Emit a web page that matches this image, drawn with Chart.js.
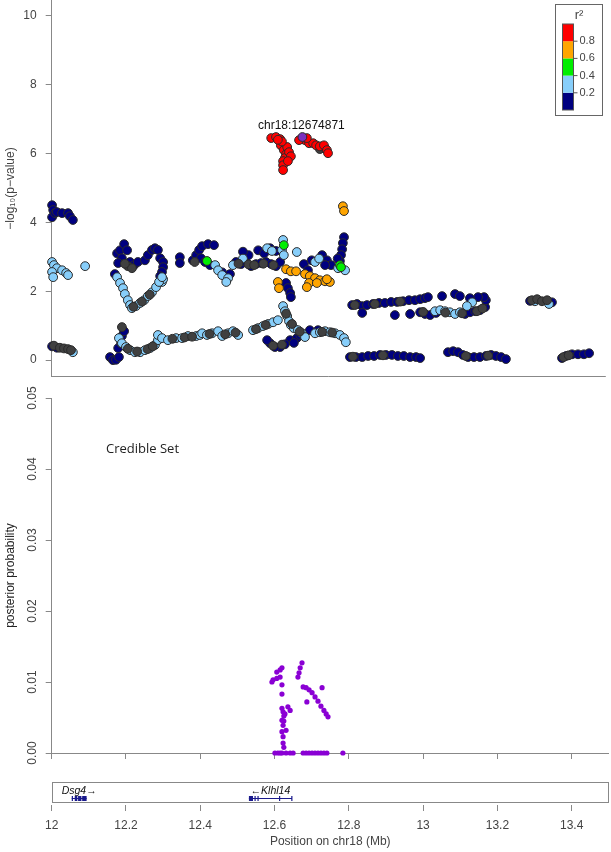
<!DOCTYPE html>
<html><head><meta charset="utf-8">
<script src="https://cdn.jsdelivr.net/npm/chart.js@4"></script>
<style>
html,body{margin:0;padding:0;background:#fff;width:611px;height:852px;overflow:hidden}
.c{position:absolute;left:0;width:611px}
</style></head><body>
<div class="c" style="top:0;height:377px"><canvas id="topChart"></canvas></div>
<div class="c" style="top:760px;height:92px"><canvas id="botChart"></canvas></div>
<div class="c" style="top:377px;height:400px"><canvas id="midChart"></canvas></div>
<script>
// ---------- DATA ----------
const posTicks = [12, 12.2, 12.4, 12.6, 12.8, 13, 13.2, 13.4];
const logPTicks = [0, 2, 4, 6, 8, 10];
const ppTicks = [0, 0.01, 0.02, 0.03, 0.04, 0.05];
const r2Breaks = [0.2, 0.4, 0.6, 0.8];
const r2Colors = ['#000080', '#87CEFA', '#00EE00', '#FFA500', '#FF0000'];

const leadName = 'chr18:12674871';
const lead = [[12.675, 6.48]];

// [position Mb, -log10 p] by r2 class
const red = [[12.591,6.45],[12.604,6.48],[12.615,6.42],[12.617,6.24],[12.625,6.10],[12.631,5.98],[12.628,5.87],[12.623,5.78],[12.623,5.66],[12.623,5.52],[12.634,6.19],[12.639,6.04],[12.644,5.92],[12.636,5.78],[12.620,6.35],[12.609,6.40],[12.682,6.39],[12.693,6.30],[12.704,6.30],[12.712,6.24],[12.722,6.21],[12.733,6.24],[12.741,6.10],[12.744,6.01],[12.666,6.39],[12.687,6.45]];
const orange = [[12.784,4.47],[12.787,4.33],[12.631,2.64],[12.644,2.58],[12.658,2.58],[12.609,2.27],[12.612,2.09],[12.682,2.50],[12.695,2.44],[12.709,2.38],[12.722,2.32],[12.736,2.29],[12.749,2.27],[12.693,2.24],[12.687,2.12],[12.714,2.24],[12.741,2.35]];
const green = [[12.418,2.88],[12.625,3.34],[12.776,2.76],[12.779,2.70]];
const light = [[12.001,2.85],[12.006,2.76],[12.014,2.67],[12.001,2.56],[12.004,2.41],[12.028,2.61],[12.039,2.53],[12.044,2.47],[12.090,2.73],
[12.057,0.23],
[12.181,0.64],[12.189,0.49],[12.200,0.38],[12.211,0.29],[12.224,0.23],[12.238,0.23],[12.251,0.29],[12.265,0.35],[12.278,0.44],[12.286,0.58],[12.286,0.73],
[12.297,0.64],[12.313,0.58],[12.335,0.64],[12.351,0.64],[12.367,0.70],[12.389,0.70],[12.399,0.73],
[12.297,2.27],[12.300,2.35],
[12.176,2.41],[12.184,2.24],[12.192,2.09],[12.197,1.92],[12.205,1.74],[12.211,1.60],[12.216,1.51],[12.227,1.57],[12.238,1.66],[12.249,1.74],[12.259,1.86],[12.270,1.97],[12.281,2.12],[12.289,2.27],[12.297,2.41],
[12.440,2.76],[12.448,2.61],[12.459,2.47],[12.475,2.38],[12.470,2.27],[12.488,2.76],[12.515,2.95],
[12.580,3.25],[12.593,3.17],[12.623,3.49],[12.620,3.20],[12.625,3.05],[12.660,3.14],[12.709,2.85],[12.720,2.95],
[12.771,2.67],[12.790,2.61],
[12.623,1.57],[12.628,1.42],[12.634,1.28],[12.639,1.13],[12.644,1.02],[12.652,0.93],[12.663,0.87],[12.674,0.78],[12.682,0.67],
[12.542,0.87],[12.556,0.93],[12.569,0.99],[12.583,1.05],[12.596,1.10],[12.609,1.16],
[12.709,0.78],[12.722,0.81],[12.736,0.84],[12.749,0.81],[12.763,0.78],[12.776,0.73],[12.787,0.64],[12.792,0.52],
[12.405,0.78],[12.418,0.73],[12.432,0.78],[12.448,0.84],[12.459,0.70],[12.475,0.78],[12.488,0.84],[12.502,0.73],
[13.032,1.42],[13.046,1.45],[13.059,1.42],[13.072,1.39],[13.086,1.34],[13.099,1.39],[13.132,1.68],[13.118,1.57],
[13.301,1.71],[13.339,1.63]];
const navy = [[12.001,4.50],[12.004,4.36],[12.001,4.15],[12.009,4.27],[12.014,4.30],[12.028,4.27],[12.044,4.27],[12.049,4.18],[12.057,4.07],
[12.001,0.40],[12.014,0.36],
[12.157,0.09],[12.165,0.00],[12.173,0.01],[12.181,0.09],[12.179,0.35],[12.187,0.49],[12.189,0.70],[12.195,0.84],
[12.176,3.10],[12.184,3.19],[12.195,3.37],[12.203,3.19],[12.189,2.96],[12.179,2.82],[12.211,2.85],[12.222,2.76],[12.232,2.85],
[12.251,2.90],[12.259,3.05],[12.270,3.20],[12.278,3.25],[12.286,3.20],[12.292,2.96],[12.300,2.85],[12.300,2.70],[12.297,2.56],[12.292,2.44],
[12.345,2.99],[12.345,2.82],[12.380,2.90],[12.389,3.05],[12.397,3.20],[12.170,2.50],
[12.405,3.31],[12.421,3.37],[12.437,3.34],[12.402,2.96],[12.413,2.85],[12.426,2.76],[12.459,2.55],[12.480,2.50],
[12.496,2.85],[12.510,2.79],[12.523,2.85],[12.537,2.73],[12.550,2.79],[12.564,2.82],[12.577,2.85],[12.591,2.79],[12.604,2.73],[12.615,2.85],
[12.556,3.19],[12.572,3.10],[12.588,3.25],[12.604,3.17],[12.530,3.05],[12.515,3.15],
[12.679,2.79],[12.690,2.61],[12.700,2.90],[12.728,3.05],[12.741,2.90],[12.752,2.76],[12.736,2.76],
[12.787,3.57],[12.784,3.40],[12.782,3.22],[12.779,3.05],[12.776,2.88],[12.770,2.95],
[12.631,2.24],[12.636,2.09],[12.642,1.95],[12.644,1.83],
[12.642,0.58],[12.628,0.46],[12.615,0.38],[12.601,0.38],[12.588,0.49],[12.580,0.58],[12.660,0.64],[12.669,0.73],[12.652,0.50],
[12.695,0.87],[12.717,0.87],
[12.809,1.60],[12.822,1.63],[12.836,1.57],[12.849,1.60],[12.865,1.63],[12.881,1.66],[12.897,1.66],[12.914,1.69],[12.930,1.69],[12.946,1.71],[12.962,1.74],[12.978,1.74],[12.992,1.77],[13.005,1.80],
[12.836,1.37],[12.924,1.31],[12.965,1.34],
[13.013,1.83],[13.051,1.86],[13.086,1.92],[13.099,1.86],
[12.992,1.39],[13.005,1.34],[13.019,1.31],[13.035,1.37],[13.113,1.34],[13.126,1.39],[13.140,1.42],[13.153,1.45],[13.167,1.54],[13.169,1.74],[13.164,1.83],[13.148,1.83],[13.126,1.80],
[13.347,1.68],[13.288,1.72],
[12.803,0.09],[12.819,0.09],[12.836,0.09],[12.852,0.12],[12.868,0.12],[12.884,0.15],[12.900,0.15],[12.916,0.15],[12.932,0.12],[12.948,0.12],[12.965,0.09],[12.981,0.09],[12.992,0.06],
[13.067,0.23],[13.081,0.26],[13.094,0.23],[13.107,0.15],[13.121,0.09],[13.137,0.09],[13.153,0.09],[13.169,0.12],[13.183,0.15],[13.196,0.12],[13.210,0.09],[13.223,0.03],
[13.374,0.06],[13.385,0.12],[13.401,0.17],[13.417,0.17],[13.433,0.17],[13.447,0.20]];
// densely overlapping markers (rendered dark grey)
const overlap = [[12.006,0.42],[12.022,0.36],[12.033,0.34],[12.044,0.32],[12.052,0.29],[12.189,0.96],[12.205,0.33],[12.230,0.25],[12.258,0.32],[12.272,0.40],[12.325,0.62],[12.358,0.66],[12.378,0.68],[12.205,2.73],[12.216,2.67],[12.197,2.80],[12.385,2.85],[12.220,1.55],[12.243,1.70],[12.264,1.90],[12.503,2.80],[12.530,2.78],[12.545,2.76],[12.570,2.80],[12.597,2.76],[12.722,6.13],[12.736,6.16],[12.677,6.42],[12.631,1.35],[12.647,1.05],[12.668,0.83],[12.596,0.42],[12.620,0.45],[12.550,0.90],[12.576,1.02],[12.728,0.82],[12.755,0.80],[12.425,0.76],[12.467,0.75],[12.495,0.80],[12.816,1.60],[12.870,1.63],[12.938,1.70],[13.000,1.40],[13.060,1.38],[13.105,1.36],[13.145,1.42],[13.160,1.50],[13.293,1.74],[13.307,1.77],[13.320,1.71],[13.334,1.74],[12.811,0.10],[12.892,0.14],[13.115,0.12],[13.175,0.13],[13.378,0.09],[13.392,0.14]];

// [position Mb, posterior probability]
const posterior = [[12.601,0],[12.609,0],[12.615,0],[12.620,0],[12.631,0],[12.642,0],[12.650,0],[12.677,0],[12.685,0],[12.693,0],[12.701,0],[12.709,0],[12.717,0],[12.725,0],[12.733,0],[12.741,0],[12.784,0],
[12.593,0.0100],[12.596,0.0103],[12.606,0.0105],[12.615,0.0107],[12.606,0.0114],[12.615,0.0117],[12.620,0.0120],
[12.620,0.0096],[12.620,0.0083],
[12.620,0.0063],[12.623,0.0058],[12.625,0.0052],[12.620,0.0046],[12.636,0.0065],[12.642,0.0060],[12.628,0.0055],[12.625,0.0045],[12.623,0.0039],[12.631,0.0032],[12.620,0.0030],[12.623,0.0023],[12.623,0.0014],[12.625,0.0008],
[12.674,0.0127],[12.669,0.0120],[12.666,0.0113],[12.663,0.0107],
[12.677,0.0093],[12.685,0.0092],[12.693,0.0089],[12.701,0.0085],[12.709,0.0079],[12.717,0.0073],[12.725,0.0066],[12.733,0.0060],[12.739,0.0055],[12.744,0.0051],
[12.728,0.0092],[12.687,0.0072]];

const geneNames = ['Dsg4', 'Klhl14'];
const geneStart = [12.054, 12.531];
const geneEnd = [12.094, 12.647];
const geneStrand = ['+', '-'];
const geneExons = [
  [[12.054,12.056],[12.062,12.069],[12.071,12.080],[12.082,12.094]],
  [[12.531,12.542],[12.546,12.548],[12.554,12.556],[12.612,12.614],[12.645,12.647]]
];

// ---------- CHARTS ----------
Chart.defaults.font.family = "'Liberation Sans', Arial, sans-serif";
Chart.defaults.font.size = 12;
Chart.defaults.color = '#444';
const X_MIN = 12, X_MAX = 13.5;
const AXIS = '#888';
const common = {responsive:true, maintainAspectRatio:false, animation:false, events:[],
  plugins:{legend:{display:false}, tooltip:{enabled:false}}};
const pts = a => a.map(p => ({x:p[0], y:p[1]}));
const ds = (arr, fill, order) => ({data:pts(arr), backgroundColor:fill, borderColor:'#2a2a2a', borderWidth:1, pointRadius:4.4, order, clip:false});
const setTicks = vals => s => { s.ticks = vals.map(v => ({value:v})); };
const fixY = w => s => { s.width = w; s.paddingTop = 0; s.paddingBottom = 0; };
const fixX = h => s => { s.height = h; s.paddingLeft = 0; s.paddingRight = 0; };

const topPlugin = {id:'topDeco', afterDraw(c){
  const {ctx, chartArea:a, scales:{x, y}} = c;
  ctx.save();
  ctx.strokeStyle = AXIS; ctx.lineWidth = 1;
  ctx.beginPath(); ctx.moveTo(a.left, Math.round(a.bottom)-0.5); ctx.lineTo(a.right-3, Math.round(a.bottom)-0.5); ctx.stroke();
  // lead label
  ctx.fillStyle = '#111'; ctx.font = "12px 'Liberation Sans', Arial, sans-serif";
  ctx.textAlign = 'center'; ctx.textBaseline = 'middle';
  ctx.fillText(leadName, x.getPixelForValue(lead[0][0]) - 1, y.getPixelForValue(lead[0][1]) - 11);
  // r2 colour bar legend
  ctx.fillStyle = '#fff'; ctx.strokeStyle = '#666';
  ctx.fillRect(555.5, 4.5, 47, 111); ctx.strokeRect(555.5, 4.5, 47, 111);
  const bx = 562.5, bw = 11, by0 = 24, bh = 86, seg = bh / r2Colors.length;
  r2Colors.forEach((col, i) => {
    const yy = by0 + bh - (i + 1) * seg;
    ctx.fillStyle = col; ctx.fillRect(bx, yy, bw, seg);
  });
  ctx.strokeStyle = '#555'; ctx.strokeRect(bx, by0, bw, bh);
  ctx.fillStyle = '#444'; ctx.font = "11px 'Liberation Sans', Arial, sans-serif";
  ctx.textAlign = 'left';
  r2Breaks.forEach((v, i) => {
    const yy = by0 + bh - (i + 1) * seg;
    ctx.beginPath(); ctx.moveTo(bx + bw, yy); ctx.lineTo(bx + bw + 4, yy); ctx.stroke();
    ctx.fillText(v.toFixed(1), bx + bw + 6, yy);
  });
  ctx.textAlign = 'center'; ctx.font = "13px 'Liberation Sans', Arial, sans-serif";
  ctx.fillText('r²', 579, 15);
  ctx.restore();
}};

new Chart(document.getElementById('topChart'), {
  type:'scatter',
  data:{datasets:[ds(lead,'#7B2FBE',0), ds(red,'#FF0000',1), ds(orange,'#FFA500',2), ds(green,'#00EE00',3), ds(overlap,'#404040',4), ds(light,'#87CEFA',5), ds(navy,'#000080',6)]},
  options:{...common, layout:{autoPadding:false, padding:{left:0, right:2.2, top:0, bottom:0}},
    scales:{
      x:{type:'linear', min:X_MIN, max:X_MAX, display:false},
      y:{type:'linear', min:-0.49, max:10.46, afterBuildTicks:setTicks(logPTicks), afterFit:fixY(51.7),
        border:{display:true, color:AXIS}, grid:{drawOnChartArea:false, drawTicks:true, tickLength:6, color:AXIS},
        ticks:{padding:9, color:'#444', font:{size:12}},
        title:{display:true, text:'−log₁₀(p−value)', color:'#444', font:{size:12}, padding:{top:3, bottom:0}}}
    }},
  plugins:[topPlugin]
});

const midPlugin = {id:'midDeco', afterDraw(c){
  const {ctx, chartArea:a} = c;
  ctx.save(); ctx.fillStyle = '#222'; ctx.font = "13px 'Open Sans', 'DejaVu Sans', sans-serif";
  ctx.textAlign = 'left'; ctx.textBaseline = 'middle';
  ctx.fillText('Credible Set', a.left + 54.3, a.top + 51);
  ctx.restore();
}};

new Chart(document.getElementById('midChart'), {
  type:'scatter',
  data:{datasets:[{data:pts(posterior), backgroundColor:'#8A00D4', borderWidth:0, pointRadius:2.6, clip:false}]},
  options:{...common, layout:{autoPadding:false, padding:{left:0, right:2.2, top:21, bottom:0}},
    scales:{
      x:{type:'linear', min:X_MIN, max:X_MAX, afterBuildTicks:setTicks(posTicks), afterFit:fixX(24),
        border:{display:true, color:AXIS}, grid:{drawOnChartArea:false, drawTicks:true, tickLength:6, color:AXIS},
        ticks:{display:false}},
      y:{type:'linear', min:0, max:0.05, afterBuildTicks:setTicks(ppTicks), afterFit:fixY(51.7),
        border:{display:true, color:AXIS}, grid:{drawOnChartArea:false, drawTicks:true, tickLength:6, color:AXIS},
        ticks:{padding:1, minRotation:90, maxRotation:90, crossAlign:'center', color:'#444', font:{size:12}, callback:v=>Number(v).toFixed(2)},
        title:{display:true, text:'posterior probability', color:'#222', font:{size:12}, padding:{top:3, bottom:0}}}
    }},
  plugins:[midPlugin]
});

const genePlugin = {id:'genes', afterDraw(c){
  const {ctx, chartArea:a, scales:{x}} = c;
  ctx.save();
  ctx.strokeStyle = AXIS; ctx.lineWidth = 1;
  ctx.strokeRect(Math.round(a.left)+0.5, Math.round(a.top)+0.5, Math.round(a.right - a.left) - 1, Math.round(a.bottom - a.top) - 3);
  const gy = Math.round(a.top) + 16;
  geneNames.forEach((name, i) => {
    const x0 = x.getPixelForValue(geneStart[i]), x1 = x.getPixelForValue(geneEnd[i]);
    ctx.strokeStyle = '#1a1a8c'; ctx.fillStyle = '#1a1a8c'; ctx.lineWidth = 1;
    ctx.beginPath(); ctx.moveTo(x0, gy + 0.5); ctx.lineTo(x1, gy + 0.5); ctx.stroke();
    geneExons[i].forEach(([s, e]) => {
      const p0 = x.getPixelForValue(s), p1 = x.getPixelForValue(e);
      ctx.fillRect(p0, gy - 2, Math.max(1.2, p1 - p0), 5);
    });
    ctx.fillStyle = '#111'; ctx.font = "italic 10.5px 'Liberation Sans', Arial, sans-serif";
    ctx.textAlign = 'center'; ctx.textBaseline = 'middle';
    const label = geneStrand[i] === '+' ? name + '→' : '←' + name;
    ctx.fillText(label, (x0 + x1) / 2, gy - 7);
  });
  ctx.restore();
}};

new Chart(document.getElementById('botChart'), {
  type:'scatter',
  data:{datasets:[]},
  options:{...common, layout:{autoPadding:false, padding:{left:51.7, right:2.2, top:22, bottom:0}},
    scales:{
      x:{type:'linear', min:X_MIN, max:X_MAX, afterBuildTicks:setTicks(posTicks), afterFit:fixX(47),
        border:{display:false}, grid:{drawOnChartArea:false, drawTicks:true, tickLength:6, color:AXIS},
        ticks:{padding:7, color:'#444', font:{size:12}, autoSkip:false, maxRotation:0, minRotation:0, callback:v=>String(Math.round(v*10)/10)},
        title:{display:true, text:'Position on chr18 (Mb)', color:'#444', font:{size:12}, padding:{top:0, bottom:3}}},
      y:{display:false, min:0, max:1}
    }},
  plugins:[genePlugin]
});
</script>
</body></html>
